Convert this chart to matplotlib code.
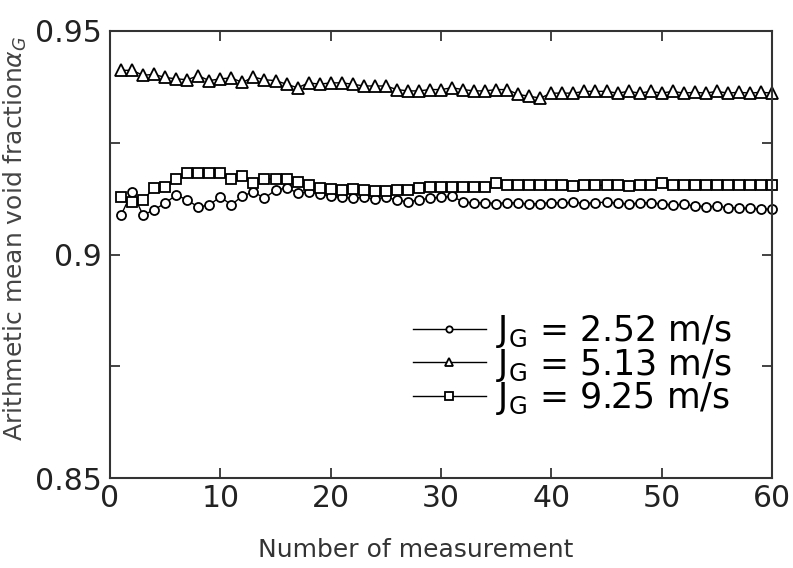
import matplotlib
matplotlib.use("Agg")
import matplotlib.pyplot as plt
from matplotlib.ticker import MultipleLocator

plt.rcParams['font.family'] = 'DejaVu Sans'
plt.rcParams['mathtext.fontset'] = 'dejavusans'

n = list(range(1, 61))

jg_252 = [0.9088, 0.9140, 0.9088, 0.9100, 0.9115, 0.9133, 0.9122, 0.9106, 0.9111, 0.9129,
          0.9111, 0.9131, 0.9140, 0.9126, 0.9144, 0.9149, 0.9138, 0.9140, 0.9136, 0.9130,
          0.9128, 0.9126, 0.9128, 0.9124, 0.9128, 0.9122, 0.9118, 0.9122, 0.9126, 0.9128,
          0.9130, 0.9118, 0.9115, 0.9116, 0.9114, 0.9116, 0.9115, 0.9113, 0.9114, 0.9116,
          0.9115, 0.9117, 0.9114, 0.9116, 0.9117, 0.9115, 0.9113, 0.9115, 0.9116, 0.9113,
          0.9111, 0.9112, 0.9109, 0.9107, 0.9108, 0.9105, 0.9104, 0.9103, 0.9102, 0.9101]

jg_513 = [0.9412, 0.9412, 0.9401, 0.9403, 0.9396, 0.9393, 0.9391, 0.9400, 0.9389, 0.9393,
          0.9395, 0.9385, 0.9397, 0.9391, 0.9389, 0.9381, 0.9373, 0.9384, 0.9381, 0.9384,
          0.9384, 0.9381, 0.9377, 0.9377, 0.9377, 0.9369, 0.9366, 0.9366, 0.9369, 0.9369,
          0.9373, 0.9369, 0.9366, 0.9366, 0.9369, 0.9369, 0.9358, 0.9354, 0.9350, 0.9361,
          0.9361, 0.9361, 0.9365, 0.9365, 0.9365, 0.9361, 0.9365, 0.9361, 0.9365, 0.9361,
          0.9365, 0.9361, 0.9363, 0.9361, 0.9365, 0.9361, 0.9363, 0.9361, 0.9363, 0.9361]

jg_925 = [0.9128, 0.9117, 0.9123, 0.9148, 0.9150, 0.9168, 0.9182, 0.9182, 0.9182, 0.9183,
          0.9169, 0.9175, 0.9160, 0.9169, 0.9169, 0.9169, 0.9162, 0.9155, 0.9149, 0.9146,
          0.9145, 0.9146, 0.9144, 0.9141, 0.9141, 0.9145, 0.9144, 0.9148, 0.9150, 0.9150,
          0.9150, 0.9151, 0.9150, 0.9152, 0.9160, 0.9155, 0.9155, 0.9155, 0.9155, 0.9155,
          0.9155, 0.9153, 0.9155, 0.9155, 0.9155, 0.9155, 0.9153, 0.9155, 0.9155, 0.9160,
          0.9155, 0.9155, 0.9155, 0.9155, 0.9155, 0.9155, 0.9155, 0.9155, 0.9155, 0.9155]

labels = [r'J$_{\rm G}$ = 2.52 m/s', r'J$_{\rm G}$ = 5.13 m/s', r'J$_{\rm G}$ = 9.25 m/s']
y_ticks = [0.85, 0.9, 0.95]
y_ticklabels = ['0.85', '0.9', '0.95']

fig = plt.figure(figsize=(7.93, 5.68), dpi=100)
ax = fig.add_axes([110/793, 1-478/568, (772-110)/793, (478-31)/568])

kw = dict(color='black', linewidth=1.0, markerfacecolor='white', markeredgecolor='black',
          markeredgewidth=1.3, clip_on=False)
l1, = ax.plot(n, jg_252, marker='o', markersize=6.5, label=labels[0], **kw)
l2, = ax.plot(n, jg_513, marker='^', markersize=8.5, label=labels[1], **kw)
l3, = ax.plot(n, jg_925, marker='s', markersize=7.5, label=labels[2], **kw)

ax.set_xlim(0, 60)
ax.set_ylim(0.85, 0.95)
ax.xaxis.set_major_locator(MultipleLocator(10))
ax.set_yticks(y_ticks)
ax.set_yticklabels(y_ticklabels)
ax.yaxis.set_minor_locator(MultipleLocator(0.025))
ax.tick_params(which='both', direction='in', top=True, right=True, length=7, width=1.2,
               colors='#222222', labelsize=21.5)
ax.tick_params(axis='y', pad=6)
ax.tick_params(axis='x', pad=4)
for s in ax.spines.values():
    s.set_linewidth(1.5)
    s.set_color('#333333')

ax.set_xlabel('Number of measurement', fontsize=18, color='#333333')
ax.xaxis.set_label_coords(0.462, -0.135)
ax.set_ylabel(r'Arithmetic mean void fraction$\alpha_G$', fontsize=18, color='#444444')
ax.yaxis.set_label_coords(-0.122, 0.535)

leg = fig.legend(handles=[l1, l2, l3], loc='center left', bbox_to_anchor=(413/793, 1-365/568),
                 frameon=False, fontsize=25, handlelength=2.1, handletextpad=0.3,
                 labelspacing=-0.1, markerscale=0.7, borderpad=0, borderaxespad=0)

fig.savefig('out.png', dpi=100)
